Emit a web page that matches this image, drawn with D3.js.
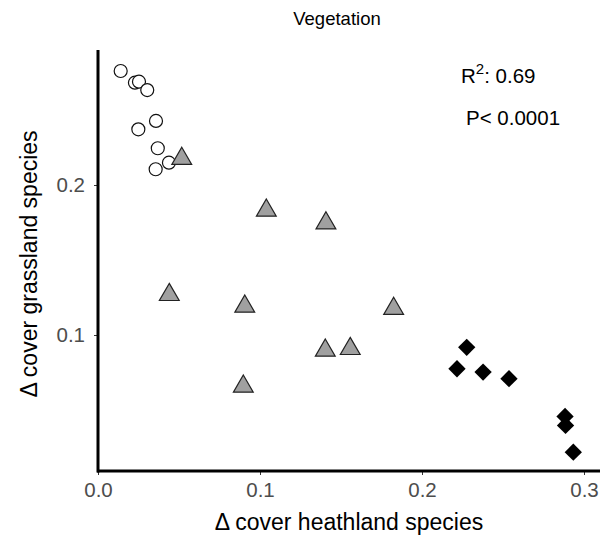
<!DOCTYPE html>
<html><head><meta charset="utf-8">
<script src="https://cdn.jsdelivr.net/npm/d3@7"></script>
<style>body{margin:0;background:#fff;}svg{display:block;font-family:"Liberation Sans",Arial,sans-serif;}</style>
</head><body>
<svg id="c" width="606" height="542"></svg>
<script>
const grassX = [0.0140,0.0228,0.0253,0.0304,0.0358,0.0249,0.0369,0.0438,0.0356];
const grassY = [0.2760,0.2682,0.2689,0.2633,0.2427,0.2371,0.2245,0.2149,0.2105];
const midX = [0.0517,0.1039,0.1407,0.0440,0.0906,0.1825,0.0897,0.1403,0.1557];
const midY = [0.2185,0.1840,0.1755,0.1278,0.1200,0.1185,0.0667,0.0907,0.0918];
const heathX = [0.2276,0.2216,0.2377,0.2537,0.2883,0.2886,0.2934];
const heathY = [0.0918,0.0775,0.0753,0.0709,0.0457,0.0397,0.0219];
const xTicks = [0.0,0.1,0.2,0.3];
const yTicks = [0.1,0.2];

const svg = d3.select("#c");
const x = d3.scaleLinear().domain([0,0.3]).range([98,584]);
const y = d3.scaleLinear().domain([0.1,0.2]).range([335,185]);
const x0 = x.invert(97), x1 = x.invert(600);
const yBot = y.invert(471), yTop = y.invert(50);

// axes
const xAxis = d3.axisBottom(x).tickValues(xTicks).tickFormat(d3.format(".1f")).tickSize(4).tickPadding(7);
const gx = svg.append("g").attr("transform","translate(0,471)").call(xAxis);
gx.select(".domain").remove();
gx.selectAll(".tick line").attr("stroke","#333");
gx.selectAll(".tick text").attr("fill","#4d4d4d").style("font-size","20.5px");

const yAxis = d3.axisLeft(y).tickValues(yTicks).tickFormat(d3.format(".1f")).tickSize(4).tickPadding(9);
const gy = svg.append("g").attr("transform","translate(98,0)").call(yAxis);
gy.select(".domain").remove();
gy.selectAll(".tick line").attr("stroke","#333");
gy.selectAll(".tick text").attr("fill","#4d4d4d").style("font-size","20.5px");

svg.append("line").attr("x1",x(x0)).attr("x2",x(x1)).attr("y1",y(yBot)).attr("y2",y(yBot))
  .attr("stroke","#000").attr("stroke-width",3);
svg.append("line").attr("x1",x(0)).attr("x2",x(0)).attr("y1",y(yTop)).attr("y2",y(yBot)+1.5)
  .attr("stroke","#000").attr("stroke-width",3);

// points
const circSym = d3.symbol().type(d3.symbolCircle).size(Math.PI*6.5*6.5);
svg.append("g").selectAll("path").data(grassX.map((v,i)=>[v,grassY[i]])).join("path")
  .attr("d",circSym).attr("transform",d=>`translate(${x(d[0])},${y(d[1])})`)
  .attr("fill","#fff").attr("stroke","#111").attr("stroke-width",1.2);

const triSym = d3.symbol().type(d3.symbolTriangle).size(170);
svg.append("g").selectAll("path").data(midX.map((v,i)=>[v,midY[i]])).join("path")
  .attr("d",triSym).attr("transform",d=>`translate(${x(d[0])},${y(d[1])+1.5})`)
  .attr("fill","#a0a0a0").attr("stroke","#222").attr("stroke-width",1.2);

const diaSym = d3.symbol().type(d3.symbolSquare).size(150);
svg.append("g").selectAll("path").data(heathX.map((v,i)=>[v,heathY[i]])).join("path")
  .attr("d",diaSym).attr("transform",d=>`translate(${x(d[0])},${y(d[1])}) rotate(45)`)
  .attr("fill","#000");

// text
svg.append("text").attr("x",337).attr("y",25).attr("text-anchor","middle")
  .style("font-size","18.5px").attr("fill","#000").text("Vegetation");
svg.append("text").attr("x",349).attr("y",530).attr("text-anchor","middle")
  .style("font-size","23px").attr("fill","#000").text("Δ cover heathland species");
svg.append("text").attr("transform","translate(37,264) rotate(-90)").attr("text-anchor","middle")
  .style("font-size","23px").attr("fill","#000").text("Δ cover grassland species");

const r2 = svg.append("text").attr("x",461).attr("y",83).style("font-size","20.5px").attr("fill","#000");
r2.append("tspan").text("R");
r2.append("tspan").attr("dy",-9).style("font-size","15px").text("2");
r2.append("tspan").attr("dy",9).text(": 0.69");
svg.append("text").attr("x",466).attr("y",125).style("font-size","20.5px").attr("fill","#000").text("P< 0.0001");
</script>
</body></html>
